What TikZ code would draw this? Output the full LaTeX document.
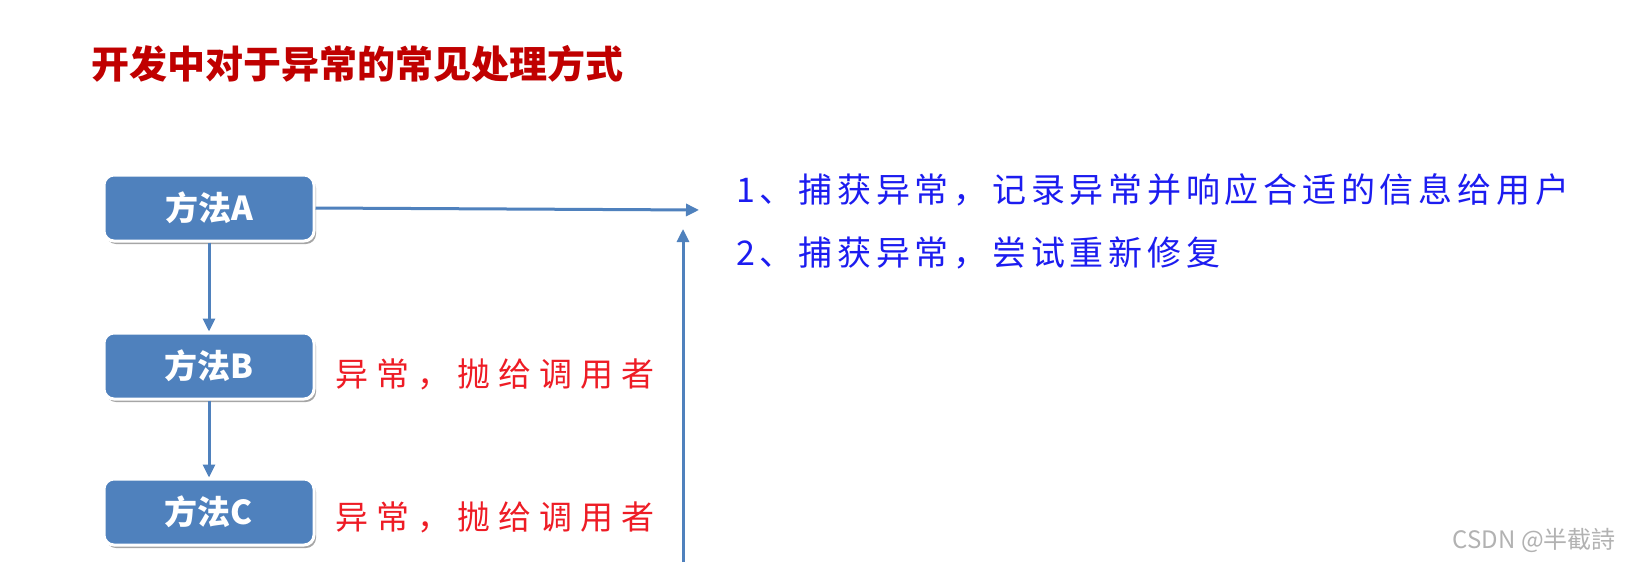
\documentclass[tikz,border=0pt]{standalone}
\usepackage{fontspec}
\newfontfamily\cjk{Noto Sans CJK SC}
\newfontfamily\cjkspaced[LetterSpace=14]{Noto Sans CJK SC}
\newfontfamily\cjkspacedr[LetterSpace=24]{Noto Sans CJK SC}
\usetikzlibrary{arrows.meta,shadows}
\definecolor{titlered}{HTML}{C00000}
\definecolor{boxblue}{HTML}{4F81BD}
\definecolor{handblue}{HTML}{1C1CF0}
\definecolor{handred}{HTML}{EE1C25}
\tikzset{
  methodbox/.style={draw=white, line width=3pt, fill=boxblue, rounded corners=10pt,
    minimum width=210pt, minimum height=66pt, inner sep=0pt,
    font=\cjk\bfseries\fontsize{33}{36}\selectfont, text=white,
    drop shadow={shadow xshift=2pt, shadow yshift=-3pt, opacity=0.35, fill=black}},
  flow/.style={draw=boxblue, line width=3pt, -{Triangle[length=13pt,width=12pt]}},
  bluetext/.style={anchor=west, inner sep=0pt, text=handblue, font=\cjkspaced\fontsize{34}{38}\selectfont},
  redtext/.style={anchor=west, inner sep=0pt, text=handred, font=\cjkspacedr\fontsize{33}{38}\selectfont},
}
\begin{document}
\begin{tikzpicture}[x=1pt,y=-1pt]
\useasboundingbox[fill=white] (0,0) rectangle (1630,570);
\node[anchor=west, inner sep=0pt, text=titlered, font=\cjk\bfseries\fontsize{38}{41}\selectfont] (title) at (91,64) {开发中对于异常的常见处理方式};
\node[methodbox] (A) at (209,208) {方法A};
\node[methodbox] (B) at (209,366) {方法B};
\node[methodbox] (C) at (209,512) {方法C};
\draw[flow] (A.south) -- (B.north);
\draw[flow] (B.south) -- (C.north);
\coordinate (hend) at (699,210);
\draw[flow] (A.east) -- (hend);
\coordinate (vstart) at (683,562);
\coordinate (vend) at (683,229);
\draw[flow] (vstart) -- (vend);
\node[redtext] (rb) at (335,374) {异常，抛给调用者};
\node[redtext] (rc) at (335,517) {异常，抛给调用者};
\node[bluetext] (l1) at (736,190) {1、捕获异常，记录异常并响应合适的信息给用户};
\node[bluetext] (l2) at (736,253) {2、捕获异常，尝试重新修复};
\node[anchor=east, inner sep=0pt, text=black!30, font=\cjk\fontsize{24}{28}\selectfont] (wm) at (1616,540) {CSDN @半截詩};
\end{tikzpicture}
\end{document}
